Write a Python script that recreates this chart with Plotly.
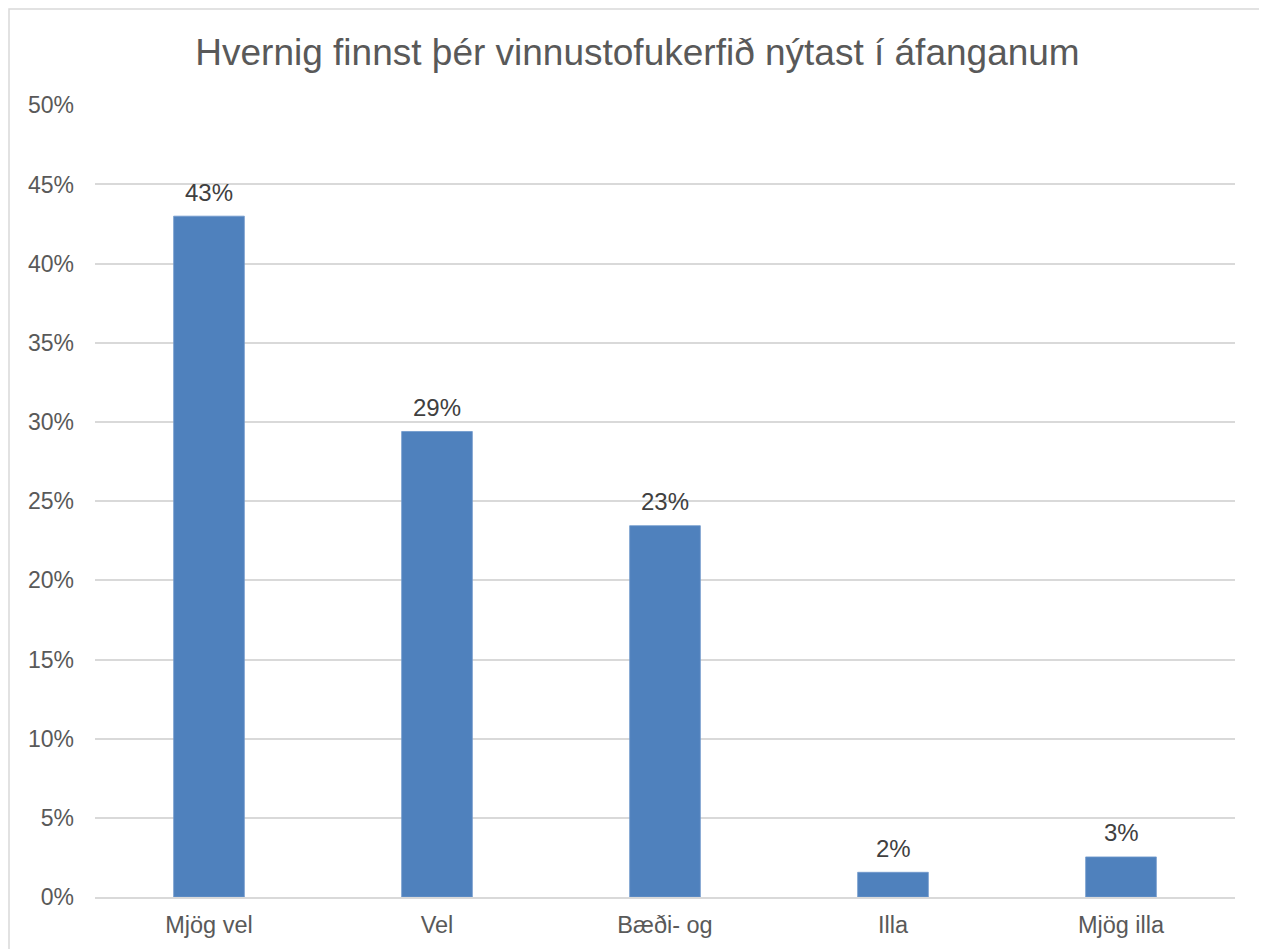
import plotly.graph_objects as go

categories = ["Mjög vel", "Vel", "Bæði- og", "Illa", "Mjög illa"]
values = [43.0, 29.4, 23.45, 1.56, 2.53]
tick_vals = [0, 5, 10, 15, 20, 25, 30, 35, 40, 45, 50]
tick_text = [f"{v}%" for v in tick_vals]
title_text = "Hvernig finnst þér vinnustofukerfið nýtast í áfanganum"

text_color = "#595959"
font_family = "Liberation Sans, Arial, sans-serif"

W, H = 1259, 941
L, R, T, B = 87, 32, 97, 52
PW, PH = W - L - R, H - T - B

fig = go.Figure(
    go.Bar(
        x=categories,
        y=values,
        marker=dict(color="#4F81BD", line=dict(color="#6E98CC", width=0.8)),
        width=0.31,
        cliponaxis=False,
    )
)

annotations = [
    dict(
        x=c,
        y=v,
        xref="x",
        yref="y",
        text=f"{v:.0f}%",
        showarrow=False,
        yanchor="middle",
        yshift=24,
        font=dict(size=24, color="#404040", family=font_family),
    )
    for c, v in zip(categories, values)
]

fig.update_layout(
    width=W,
    height=H,
    paper_bgcolor="white",
    plot_bgcolor="white",
    margin=dict(l=L, r=R, t=T, b=B),
    title=dict(
        text=title_text,
        x=0.5,
        xanchor="center",
        y=1 - 44 / H,
        yanchor="middle",
        font=dict(size=37, color=text_color, family=font_family),
    ),
    showlegend=False,
    font=dict(family=font_family, color=text_color),
    xaxis=dict(
        showgrid=False,
        showline=True,
        linecolor="#D9D9D9",
        linewidth=1.5,
        ticks="",
        tickfont=dict(size=23.5, color=text_color),
        ticklabelstandoff=6,
    ),
    yaxis=dict(
        range=[0, 50.02],
        tickvals=tick_vals,
        ticktext=tick_text,
        showgrid=True,
        gridcolor="#D9D9D9",
        gridwidth=1.5,
        zeroline=False,
        showline=False,
        ticks="",
        tickfont=dict(size=23, color=text_color),
        ticklabelstandoff=20,
    ),
    annotations=annotations,
    shapes=[
        dict(
            type="rect",
            xref="paper",
            yref="paper",
            x0=-86 / PW,
            x1=1 + 25 / PW,
            y0=-0.2,
            y1=1 + 96 / PH,
            line=dict(color="#D9D9D9", width=1.5),
            fillcolor="rgba(0,0,0,0)",
            layer="below",
        )
    ],
)

fig.write_html("out.html")
